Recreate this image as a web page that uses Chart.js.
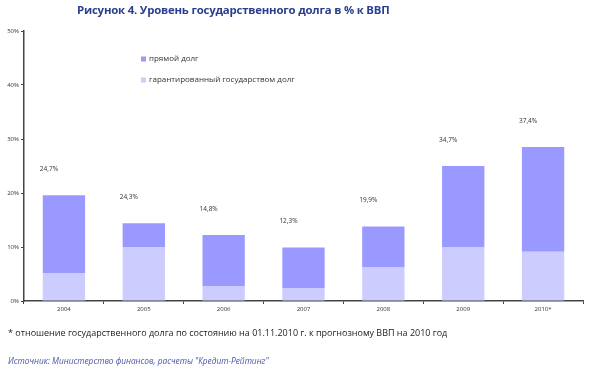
<!DOCTYPE html>
<html>
<head>
<meta charset="utf-8">
<script src="https://cdn.jsdelivr.net/npm/chart.js@4"></script>
<style>
    body { margin: 0; background: #fff; }
    #wrap { position: relative; width: 590px; height: 373px; font-family: "Open Sans", sans-serif; }
    #title { position: absolute; left: 77px; top: 2px; font-size: 11.4px; font-weight: bold; color: #2B3F8F; white-space: nowrap; letter-spacing: -0.2px; }
    #note { position: absolute; left: 8px; top: 326px; font-size: 9px; color: #222; white-space: nowrap; }
    #source { position: absolute; left: 8px; top: 355px; font-size: 8.3px; font-style: italic; color: #4A55A8; white-space: nowrap; }
    canvas { position: absolute; left: 0; top: 0; }
</style>
</head>
<body>
<div id="wrap">
    <canvas id="debtChart" width="590" height="373"></canvas>
    <div id="title">Рисунок 4. Уровень государственного долга в % к ВВП</div>
    <div id="note">* отношение государственного долга по состоянию на 01.11.2010 г. к прогнозному ВВП на 2010 год</div>
    <div id="source">Источник: Министерство финансов, расчеты "Кредит-Рейтинг"</div>
</div>
<script>
// Données (en % du PIB)
const years = ["2004", "2005", "2006", "2007", "2008", "2009", "2010*"];
const guaranteedDebt = [5.1, 10.0, 2.8, 2.3, 6.2, 9.9, 9.1];
const directDebt = [14.5, 4.4, 9.4, 7.6, 7.6, 15.1, 19.4];
const totalLabels = ["24,7%", "24,3%", "14,8%", "12,3%", "19,9%", "34,7%", "37,4%"];
const yTicks = [0, 10, 20, 30, 40, 50];

const tickFont = { family: "Open Sans", size: 6 };

// Légende dessinée dans la zone du graphique
const legendInside = {
    id: "legendInside",
    afterDraw(chart) {
        const c = chart.ctx;
        const items = [chart.data.datasets[1], chart.data.datasets[0]];
        c.save();
        c.font = "8px 'Open Sans'";
        c.textBaseline = "middle";
        items.forEach((ds, i) => {
            const y = 59 + i * 21;
            c.fillStyle = ds.backgroundColor;
            c.fillRect(141, y - 2.5, 5, 5);
            c.fillStyle = "#333";
            c.fillText(ds.label, 149, y);
        });
        c.restore();
    }
};

// Étiquettes des totaux au-dessus des barres
const totalsPlugin = {
    id: "totalsPlugin",
    afterDatasetsDraw(chart) {
        const c = chart.ctx;
        const top = chart.getDatasetMeta(1).data;
        c.save();
        c.font = "6.5px 'Open Sans'";
        c.fillStyle = "#333";
        c.textAlign = "center";
        c.textBaseline = "middle";
        top.forEach((bar, i) => {
            c.fillText(totalLabels[i], bar.x - 15, bar.y - 26);
        });
        c.restore();
    }
};

new Chart(document.getElementById("debtChart").getContext("2d"), {
    type: "bar",
    data: {
        labels: years,
        datasets: [
            {
                label: "гарантированный государством долг",
                data: guaranteedDebt,
                backgroundColor: "#CCCCFF",
                categoryPercentage: 1,
                barPercentage: 0.53,
            },
            {
                label: "прямой долг",
                data: directDebt,
                backgroundColor: "#9999FF",
                categoryPercentage: 1,
                barPercentage: 0.53,
            },
        ],
    },
    options: {
        responsive: false,
        animation: false,
        layout: { padding: { left: 0, right: 7, top: 31, bottom: 56 } },
        plugins: {
            legend: { display: false },
            tooltip: { enabled: false },
        },
        scales: {
            x: {
                stacked: true,
                afterFit: (s) => { s.height = 16; },
                grid: {
                    display: true,
                    offset: true,
                    drawOnChartArea: false,
                    color: "#444",
                    tickLength: 3,
                },
                border: { color: "#444", width: 1.5 },
                ticks: { font: tickFont, color: "#333", padding: 2 },
            },
            y: {
                stacked: true,
                min: 0,
                max: 50,
                afterFit: (s) => { s.width = 24; },
                afterBuildTicks: (s) => { s.ticks = yTicks.map(v => ({ value: v })); },
                grid: {
                    display: true,
                    drawOnChartArea: false,
                    color: "#444",
                    tickLength: 3,
                },
                border: { color: "#444", width: 1.5 },
                ticks: {
                    font: tickFont,
                    color: "#333",
                    padding: 2,
                    callback: (v) => v + "%",
                },
            },
        },
    },
    plugins: [legendInside, totalsPlugin],
});
</script>
</body>
</html>
